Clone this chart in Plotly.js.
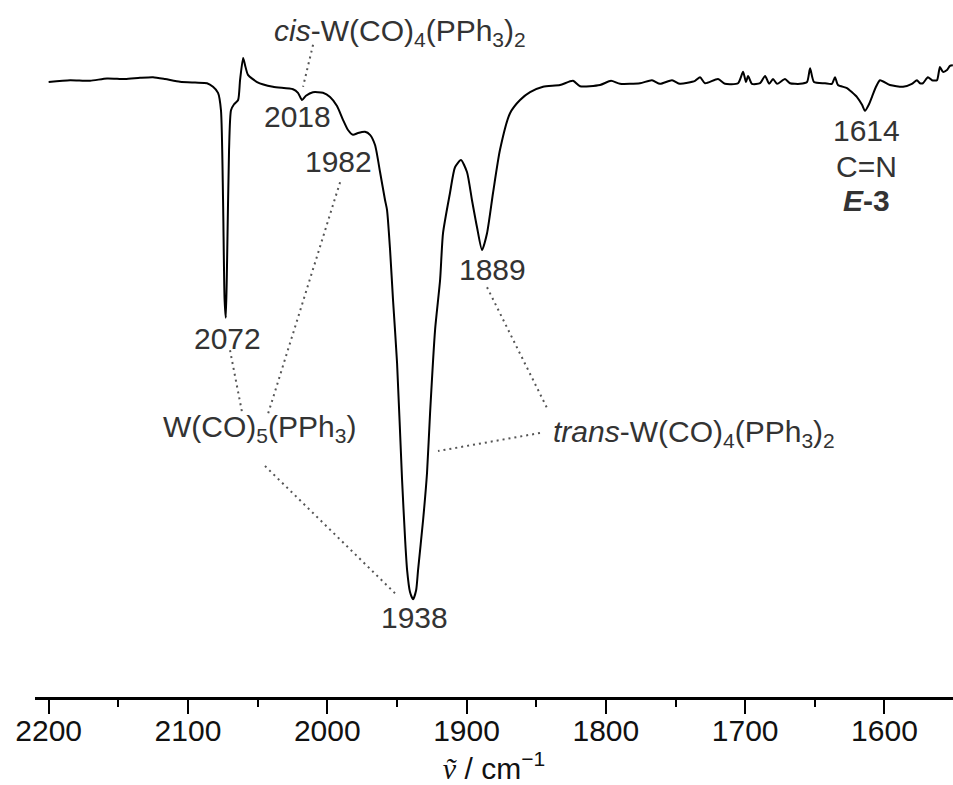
<!DOCTYPE html>
<html>
<head>
<meta charset="utf-8">
<script src="https://cdn.plot.ly/plotly-3.0.1.min.js"></script>
<style>html,body{margin:0;padding:0;background:#fff;}#chart{width:953px;height:785px;}</style>
</head>
<body>
<div id="chart"></div>
<script>
// IR spectrum: wavenumber (cm^-1) and relative transmittance (a.u.)
const wavenumber = [
  2200.0, 2184.6, 2170.3, 2158.1, 2145.2, 2134.4, 2125.1, 2116.4, 2105.7, 2094.9,
  2086.3, 2082.0, 2078.4, 2076.3, 2074.8, 2073.7, 2072.8, 2071.9, 2070.5, 2069.1,
  2066.9, 2064.0, 2062.6, 2060.4, 2059.0, 2056.9, 2050.4, 2039.0, 2024.6, 2021.0,
  2018.1, 2015.3, 2010.3, 2003.1, 1998.0, 1993.0, 1988.7, 1985.1, 1981.5, 1977.9,
  1972.9, 1969.3, 1965.7, 1962.1, 1958.5, 1957.1, 1954.9, 1952.8, 1949.9, 1946.3,
  1944.1, 1942.7, 1940.6, 1938.4, 1936.2, 1934.8, 1931.2, 1928.4, 1926.2, 1922.6,
  1919.0, 1916.9, 1911.9, 1908.3, 1904.0, 1899.7, 1896.1, 1892.5, 1888.9, 1885.3,
  1881.0, 1876.0, 1868.8, 1861.6, 1854.4, 1845.1, 1832.9, 1823.6, 1818.5, 1804.2,
  1796.3, 1789.8, 1775.5, 1766.9, 1761.1, 1752.5, 1746.8, 1736.0, 1732.4, 1728.8,
  1719.5, 1714.5, 1705.1, 1701.5, 1699.4, 1697.9, 1695.1, 1689.3, 1685.7, 1682.8,
  1680.0, 1677.1, 1671.4, 1667.8, 1660.6, 1655.6, 1653.4, 1650.6, 1642.7, 1637.7,
  1635.5, 1633.4, 1626.9, 1623.3, 1619.7, 1616.1, 1614.0, 1611.1, 1609.0, 1606.1,
  1603.2, 1596.1, 1586.7, 1580.3, 1576.7, 1574.5, 1572.4, 1568.8, 1565.9, 1562.3,
  1560.2, 1558.0, 1555.1, 1553.0, 1550.9
];
const transmittance = [
  100.0, 100.3, 100.2, 100.6, 100.5, 100.7, 100.8, 100.5, 100.05, 99.9,
  99.8, 99.2, 98.2, 95.3, 80.3, 63.7, 60.7, 70.3, 88.7, 95.3,
  96.3, 97.0, 100.3, 104.0, 102.8, 101.2, 100.0, 99.2, 98.8, 98.2,
  97.0, 97.7, 98.3, 98.2, 97.5, 96.0, 93.7, 92.0, 91.2, 91.5,
  91.7, 91.2, 89.5, 85.0, 80.3, 78.7, 72.0, 63.7, 53.2, 33.7,
  23.7, 18.7, 15.0, 13.8, 15.3, 18.7, 27.0, 34.8, 44.8, 58.7,
  67.0, 74.8, 81.5, 85.8, 87.0, 85.0, 80.3, 75.8, 72.0, 74.8,
  81.5, 88.7, 94.8, 97.0, 98.3, 99.2, 99.5, 100.2, 99.3, 99.5,
  100.2, 99.7, 99.8, 100.3, 99.7, 100.3, 99.7, 100.2, 100.8, 99.8,
  100.5, 99.7, 99.8, 101.7, 100.0, 101.0, 99.7, 99.8, 101.0, 99.7,
  100.5, 99.7, 100.5, 99.8, 99.7, 100.0, 102.3, 100.0, 99.8, 99.7,
  100.8, 99.5, 99.0, 98.3, 97.5, 96.2, 95.2, 96.3, 97.5, 99.2,
  100.3, 99.5, 99.2, 99.7, 100.3, 99.8, 99.8, 100.8, 100.3, 100.3,
  102.5, 101.7, 102.0, 102.7, 102.8
];
const tickValues = [2200, 2100, 2000, 1900, 1800, 1700, 1600];
const tickLabels = ["2200", "2100", "2000", "1900", "1800", "1700", "1600"];

// Peak labels
const peakLabels = ["2072", "2018", "1982", "1938", "1889", "1614"];
const peakLabelX = [2071.9, 2021.7, 1991.6, 1937.7, 1881.7, 1612.6];
const peakLabelY = [57.3, 94.2, 86.7, 10.8, 68.8, 92.0];

const txtFont = {family: "Arial, 'Liberation Sans', sans-serif", size: 30, color: "#333"};
const annotations = [];
for (let i = 0; i < peakLabels.length; i++) {
  annotations.push({x: peakLabelX[i], y: peakLabelY[i], xref: 'x', yref: 'y', text: peakLabels[i],
    showarrow: false, font: txtFont, xanchor: 'center', yanchor: 'middle'});
}
annotations.push({x: 1947.8, y: 108.3, xref:'x', yref:'y', showarrow:false, font: txtFont,
  text: '<i>cis</i>-W(CO)<sub>4</sub>(PPh<sub>3</sub>)<sub>2</sub>', xanchor:'center', yanchor:'middle'});
annotations.push({x: 2049.0, y: 42.3, xref:'x', yref:'y', showarrow:false, font: txtFont,
  text: 'W(CO)<sub>5</sub>(PPh<sub>3</sub>)', xanchor:'center', yanchor:'middle'});
annotations.push({x: 1736.7, y: 41.5, xref:'x', yref:'y', showarrow:false, font: txtFont,
  text: '<i>trans</i>-W(CO)<sub>4</sub>(PPh<sub>3</sub>)<sub>2</sub>', xanchor:'center', yanchor:'middle'});
annotations.push({x: 1612.6, y: 86.0, xref:'x', yref:'y', showarrow:false, font: txtFont,
  text: 'C=N', xanchor:'center', yanchor:'middle'});
annotations.push({x: 1612.6, y: 80.2, xref:'x', yref:'y', showarrow:false, font: txtFont,
  text: '<b><i>E</i>-3</b>', xanchor:'center', yanchor:'middle'});

const dotLine = {color: '#555', width: 2, dash: '2px,4px'};
const connectors = [
  [2010.2, 106.2, 2017.4, 99.2],
  [2069.8, 55.3, 2061.2, 45.0],
  [1990.8, 83.3, 2042.5, 44.7],
  [2044.7, 36.0, 1951.4, 14.8],
  [1847.3, 41.5, 1920.5, 38.5],
  [1885.3, 65.8, 1842.3, 45.7]
];
const shapes = connectors.map(c => ({type:'line', xref:'x', yref:'y', x0:c[0], y0:c[1], x1:c[2], y1:c[3], line: dotLine}));

const trace = {
  x: wavenumber, y: transmittance, type: 'scatter', mode: 'lines',
  line: {color: '#000', width: 2, shape: 'spline', smoothing: 0.6}, hoverinfo: 'skip'
};

const layout = {
  width: 953, height: 785,
  margin: {l: 35, r: 0, t: 0, b: 88, pad: 0},
  paper_bgcolor: '#fff', plot_bgcolor: '#fff',
  showlegend: false,
  xaxis: {
    range: [2209.8, 1550.8], autorange: false,
    showline: true, linecolor: '#000', linewidth: 3,
    showgrid: false, zeroline: false,
    ticks: 'outside', ticklen: 14, tickwidth: 2, tickcolor: '#000',
    tickvals: tickValues, ticktext: tickLabels,
    ticklabelstandoff: -9,
    tickfont: {family: "Arial, 'Liberation Sans', sans-serif", size: 30, color: '#111'},
    minor: {dtick: 50, ticks: 'outside', ticklen: 7, tickwidth: 2, tickcolor: '#000', showgrid: false},
    title: {text: '<span style="font-family:\'Liberation Serif\', serif"><i>ṽ</i></span> / cm<sup>−1</sup>',
      font: {family: "Arial, 'Liberation Sans', sans-serif", size: 30, color: '#111'}, standoff: 2}
  },
  yaxis: {visible: false, range: [-2.5, 113.67], autorange: false, fixedrange: true},
  annotations: annotations,
  shapes: shapes
};

Plotly.newPlot('chart', [trace], layout, {displayModeBar: false, staticPlot: true});
</script>
</body>
</html>
